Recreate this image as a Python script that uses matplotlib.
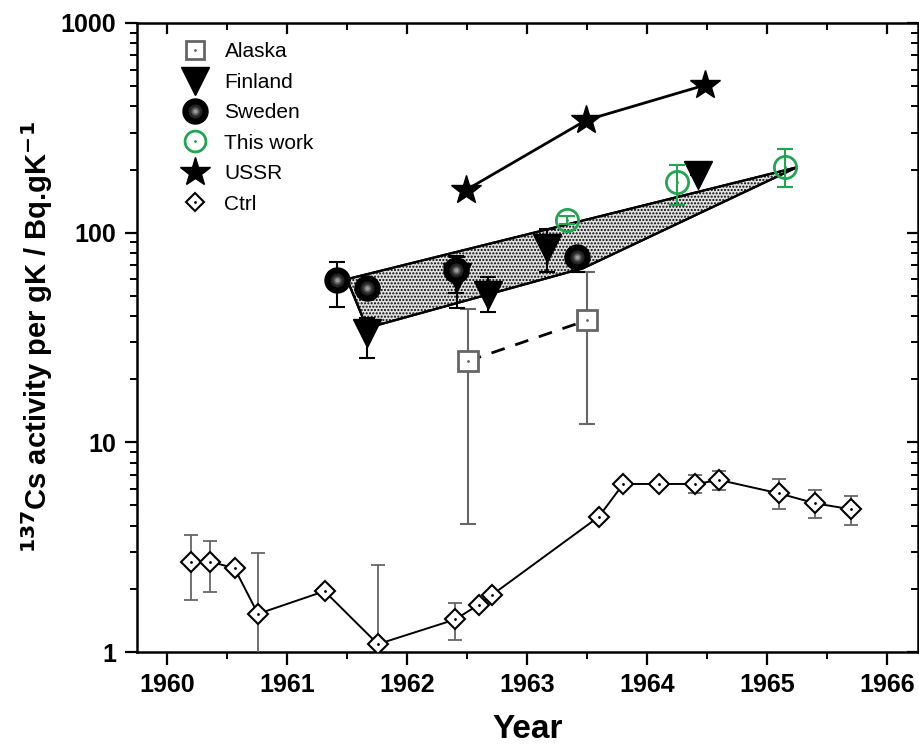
import numpy as np
import matplotlib
matplotlib.use("Agg")
import matplotlib.pyplot as plt
from matplotlib.legend_handler import HandlerTuple
from matplotlib.lines import Line2D
from matplotlib.ticker import FixedLocator, LogLocator, NullFormatter

plt.rcParams['font.family'] = ['Liberation Sans', 'DejaVu Sans']

# ---------------- data ----------------
ctrl_year = [1960.20, 1960.355, 1960.563, 1960.758, 1961.313, 1961.758, 1962.403,
             1962.597, 1962.708, 1963.60, 1963.803, 1964.10, 1964.405, 1964.605,
             1965.10, 1965.403, 1965.703]
ctrl_val = [2.70, 2.70, 2.51, 1.52, 1.95, 1.09, 1.43, 1.68, 1.87, 4.42, 6.33, 6.33,
            6.33, 6.61, 5.71, 5.12, 4.79]
ctrl_hi = [3.63, 3.38, 2.51, 2.97, 1.95, 2.59, 1.71, 1.68, 1.87, 4.42, 6.33, 6.33,
           6.98, 7.30, 6.68, 5.92, 5.56]
ctrl_lo = [1.77, 1.94, 2.51, 0.3, 1.95, 0.3, 1.14, 1.68, 1.87, 4.42, 6.33, 6.33,
           5.71, 5.92, 4.81, 4.34, 4.03]

alaska_year = [1962.508, 1963.505]
alaska_val = [24.4, 38.3]
alaska_hi = [43.1, 64.7]
alaska_lo = [4.1, 12.2]

finland_year = [1961.667, 1962.417, 1962.675, 1963.167, 1964.425]
finland_val = [33.1, 61.6, 50.4, 84.2, 188]
finland_hi = [39.0, 76.7, 61.2, 104, 188]
finland_lo = [25.2, 43.5, 41.7, 65.1, 188]

sweden_year = [1961.417, 1961.667, 1962.41, 1963.417]
sweden_val = [59.4, 54.2, 66.3, 76.7]
sweden_hi = [72.2, 54.2, 77.3, 76.7]
sweden_lo = [44.3, 54.2, 51.4, 65.1]

work_year = [1963.333, 1964.25, 1965.153]
work_val = [114.8, 175, 205.6]
work_hi = [120, 210, 250]
work_lo = [110, 136, 165]

ussr_year = [1962.492, 1963.494, 1964.486]
ussr_val = [159.7, 344, 506]

band_year = [1961.50, 1961.667, 1963.472, 1965.25]
band_val = [60, 35.1, 67.8, 205]

x_ticks = [1960, 1961, 1962, 1963, 1964, 1965, 1966]
y_ticks = [1, 10, 100, 1000]

GREEN = '#22a552'
GRAY = '#666666'


def yerr(val, lo, hi):
    v = np.array(val, float)
    return np.vstack([v - np.array(lo, float), np.array(hi, float) - v])


fig = plt.figure(figsize=(9.2, 7.49), dpi=100)
ax = fig.add_axes([137 / 920, 97 / 749, (918 - 137) / 920, (652 - 23) / 749])
ax.set_yscale('log')
ax.set_xlim(1959.75, 1966.26)
ax.set_ylim(1, 1000)

# shaded band
ax.fill(band_year, band_val, facecolor='#e2e2e2', edgecolor='black', lw=1.6,
        hatch='.....', zorder=1)
ax.fill(band_year, band_val, facecolor='none', edgecolor='black', lw=1.6, zorder=2)

# Ctrl
ax.errorbar(ctrl_year, ctrl_val, yerr=yerr(ctrl_val, ctrl_lo, ctrl_hi), fmt='none',
            ecolor=GRAY, elinewidth=1.3, capsize=5, capthick=1.3, zorder=3)
ax.plot(ctrl_year, ctrl_val, '-', color='black', lw=1.4, zorder=4)
ax.plot(ctrl_year, ctrl_val, 'D', ms=10, mfc='white', mec='black', mew=1.5, ls='none', zorder=5)
ax.plot(ctrl_year, ctrl_val, '.', ms=2, color='black', ls='none', zorder=6)

# Alaska
ax.errorbar(alaska_year, alaska_val, yerr=yerr(alaska_val, alaska_lo, alaska_hi), fmt='none',
            ecolor=GRAY, elinewidth=1.5, capsize=6, capthick=1.5, zorder=3)
ax.plot(alaska_year, alaska_val, '--', color='black', lw=2, dashes=(5, 4), zorder=4)
ax.plot(alaska_year, alaska_val, 's', ms=14, mfc='white', mec=GRAY, mew=2, ls='none', zorder=5)
ax.plot(alaska_year, alaska_val, '.', ms=2, color=GRAY, ls='none', zorder=6)

# USSR
ax.plot(ussr_year, ussr_val, '-', color='black', lw=2, zorder=4)
ax.plot(ussr_year, ussr_val, '*', ms=22, color='black', ls='none', zorder=5)

# Finland
ax.errorbar(finland_year, finland_val, yerr=yerr(finland_val, finland_lo, finland_hi), fmt='none',
            ecolor='black', elinewidth=1.5, capsize=6, capthick=1.5, zorder=6)
ax.plot(finland_year, finland_val, 'v', ms=20, color='black', ls='none', zorder=7)

# Sweden (shaded sphere)
ax.errorbar(sweden_year, sweden_val, yerr=yerr(sweden_val, sweden_lo, sweden_hi), fmt='none',
            ecolor='black', elinewidth=1.5, capsize=6, capthick=1.5, zorder=6)
ax.plot(sweden_year, sweden_val, 'o', ms=18, color='black', ls='none', zorder=7)
ax.plot(sweden_year, sweden_val, 'o', ms=9, color='#262626', ls='none', zorder=8)
ax.plot(sweden_year, sweden_val, 'o', ms=5, color='#5a5a5a', ls='none', zorder=9)
ax.plot(sweden_year, sweden_val, 'o', ms=2.2, color='#9a9a9a', ls='none', zorder=9)

# This work
ax.errorbar(work_year, work_val, yerr=yerr(work_val, work_lo, work_hi), fmt='none',
            ecolor=GREEN, elinewidth=1.5, capsize=6, capthick=1.5, zorder=8)
ax.plot(work_year, work_val, 'o', ms=16, mfc='none', mec=GREEN, mew=2, ls='none', zorder=9)
ax.plot(work_year, work_val, '.', ms=2, color=GREEN, ls='none', zorder=9)

# ---------------- axes styling ----------------
for s in ax.spines.values():
    s.set_linewidth(1.8)
ax.xaxis.set_major_locator(FixedLocator(x_ticks))
ax.xaxis.set_minor_locator(FixedLocator([t + 0.5 for t in x_ticks[:-1]]))
ax.yaxis.set_major_locator(FixedLocator(y_ticks))
ax.yaxis.set_minor_locator(LogLocator(base=10, subs=np.arange(2, 10)))
ax.yaxis.set_minor_formatter(NullFormatter())
ax.set_xticklabels([str(t) for t in x_ticks])
ax.set_yticklabels([str(t) for t in y_ticks])
ax.tick_params(which='major', direction='out', length=9, width=1.6, labelsize=18, pad=6)
ax.tick_params(which='minor', direction='out', length=5, width=1.4)
for lab in ax.get_xticklabels() + ax.get_yticklabels():
    lab.set_fontweight('bold')

# mirrored inward ticks on top/right
axt = ax.secondary_xaxis('top')
axt.xaxis.set_major_locator(FixedLocator(x_ticks))
axt.xaxis.set_minor_locator(FixedLocator([t + 0.5 for t in x_ticks[:-1]]))
axt.tick_params(which='major', direction='in', length=8, width=1.6, labeltop=False)
axt.tick_params(which='minor', direction='in', length=5, width=1.4)
axr = ax.secondary_yaxis('right')
axr.yaxis.set_major_locator(FixedLocator(y_ticks))
axr.yaxis.set_minor_locator(LogLocator(base=10, subs=np.arange(2, 10)))
axr.yaxis.set_minor_formatter(NullFormatter())
axr.tick_params(which='major', direction='in', length=8, width=1.6, labelright=False)
axr.tick_params(which='minor', direction='in', length=5, width=1.4)

ax.set_xlabel('Year', fontsize=24, fontweight='bold', labelpad=12)
ax.set_ylabel(r'$\mathbf{^{137}}$Cs activity per gK / Bq.gK$\mathbf{^{-1}}$',
              fontsize=21, fontweight='bold', labelpad=4)

# ---------------- legend ----------------
h_alaska = (Line2D([], [], ls='none', marker='s', ms=13, mfc='white', mec=GRAY, mew=2),
            Line2D([], [], ls='none', marker='.', ms=2, color=GRAY))
h_fin = Line2D([], [], ls='none', marker='v', ms=20, color='black')
h_swe = (Line2D([], [], ls='none', marker='o', ms=18, color='black'),
         Line2D([], [], ls='none', marker='o', ms=9, color='#262626'),
         Line2D([], [], ls='none', marker='o', ms=5, color='#5a5a5a'),
         Line2D([], [], ls='none', marker='o', ms=2.2, color='#9a9a9a'))
h_work = (Line2D([], [], ls='none', marker='o', ms=15, mfc='none', mec=GREEN, mew=2),
          Line2D([], [], ls='none', marker='.', ms=2, color=GREEN))
h_ussr = Line2D([], [], ls='none', marker='*', ms=22, color='black')
h_ctrl = (Line2D([], [], ls='none', marker='D', ms=9, mfc='white', mec='black', mew=1.5),
          Line2D([], [], ls='none', marker='.', ms=2, color='black'))
leg = ax.legend([h_alaska, h_fin, h_swe, h_work, h_ussr, h_ctrl],
                ['Alaska', 'Finland', 'Sweden', 'This work', 'USSR', 'Ctrl'],
                handler_map={tuple: HandlerTuple(ndivide=1, pad=0)},
                loc='upper left', bbox_to_anchor=(0.032, 0.999), frameon=False,
                fontsize=15, labelspacing=0.55, handlelength=1.4, handletextpad=0.7)

fig.savefig('out.png', dpi=100)
